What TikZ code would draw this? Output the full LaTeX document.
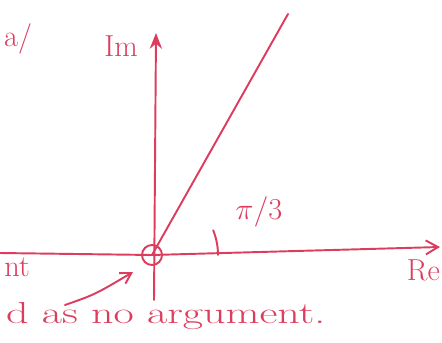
\documentclass[tikz,border=0pt]{standalone}
\usepackage{amsmath}
\usetikzlibrary{arrows.meta, positioning, calc}
\definecolor{ink}{HTML}{DC3D5E}

\begin{document}
\begin{tikzpicture}[
    every node/.style={text=ink},
    pen/.style={draw=ink, line width=1.1pt, line cap=round},
    word/.style={font=\LARGE},
]
\useasboundingbox (0,0) rectangle (8.84,6.84);

% ---------------- origin and axes
\node[pen, circle, minimum size=0.4cm, inner sep=0pt] (o) at (3.04, 1.74) {};
\coordinate (reL) at (0, 1.78);
\coordinate (reR) at (8.80, 1.90);
\coordinate (imB) at (3.08, 0.84);
\coordinate (imT) at (3.12, 6.18);
\draw[pen, -{Straight Barb[length=7pt, width=8pt]}] (reL) -- (o.center) -- (reR);
\draw[pen, -{Stealth[length=9pt, width=7pt]}] (imB) -- (imT);

% ---------------- ray at pi/3
\coordinate (tip) at (5.76, 6.56);
\draw[pen] (o.center) -- (tip);
\draw[pen] ($(o.center)+(1.32,0)$) arc (0:22:1.32);

% ---------------- labels
\node[word] (im) at (2.42, 5.92) {Im};
\node[word, anchor=east, inner sep=1pt] (re) at (8.84, 1.44) {Re};
\node[word] (ang) at (5.18, 2.60) {$\pi/3$};
\node[word] (part) at (0.36, 6.06) {a/};
\node[word, anchor=east] (cut) at (0.72, 1.50) {nt};
\node[word, anchor=west, xscale=1.45] (note) at (-0.06, 0.52) {d as no argument.};

% ---------------- pointer to the origin
\coordinate (from) at (1.30, 0.74);
\coordinate (to) at (2.66, 1.40);
\draw[pen, -{Straight Barb[length=6pt, width=7pt]}] (from) .. controls (1.9, 0.95) .. (to);
\end{tikzpicture}
\end{document}
